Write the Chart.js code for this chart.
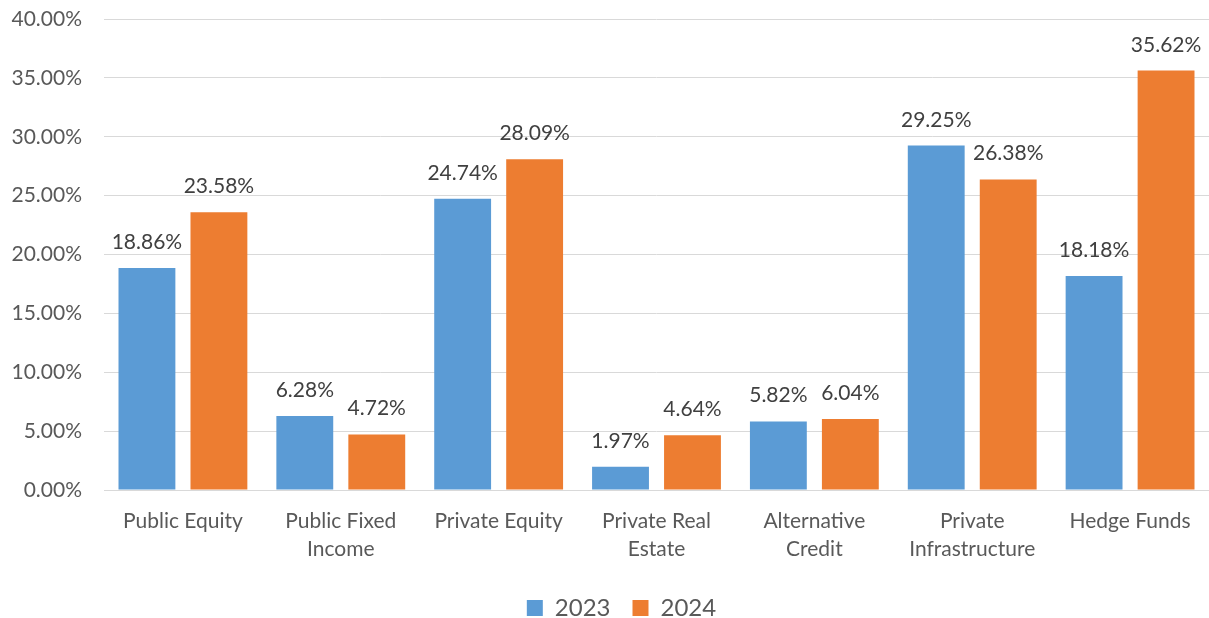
<!DOCTYPE html>
<html>
<head>
<meta charset="utf-8">
<script src="https://cdn.jsdelivr.net/npm/chart.js@4/dist/chart.umd.min.js"></script>
<style>
  html, body { margin: 0; padding: 0; background: #ffffff; }
  #wrap { width: 1209px; height: 618px; position: relative; }
</style>
</head>
<body>
<div id="wrap"><canvas id="c" width="1209" height="618"></canvas></div>
<script>
// Asset classes (multi-line labels as arrays)
const categories = [
  ['Public Equity'],
  ['Public Fixed', 'Income'],
  ['Private Equity'],
  ['Private Real', 'Estate'],
  ['Alternative', 'Credit'],
  ['Private', 'Infrastructure'],
  ['Hedge Funds']
];
// Returns in percent
const values2023 = [18.86, 6.28, 24.74, 1.97, 5.82, 29.25, 18.18];
const values2024 = [23.58, 4.72, 28.09, 4.64, 6.04, 26.38, 35.62];
const yTicks = [0, 5, 10, 15, 20, 25, 30, 35, 40];

const FONT = "Lato, 'Noto Sans', sans-serif";

// Value labels above each bar
const valueLabels = {
  id: 'valueLabels',
  afterDatasetsDraw(chart) {
    const ctx = chart.ctx;
    ctx.save();
    ctx.font = '21px ' + FONT;
    ctx.fillStyle = '#404040';
    ctx.textAlign = 'center';
    ctx.textBaseline = 'alphabetic';
    chart.data.datasets.forEach((ds, i) => {
      chart.getDatasetMeta(i).data.forEach((bar, j) => {
        ctx.fillText(ds.data[j].toFixed(2) + '%', bar.x, bar.y - 19);
      });
    });
    ctx.restore();
  }
};

// Nudge the legend box slightly right and up
const legendNudge = {
  id: 'legendNudge',
  afterLayout(chart) {
    const lg = chart.legend;
    if (!lg) return;
    lg.left += 17; lg.right += 17;
    lg.top -= 3; lg.bottom -= 3;
  }
};

new Chart(document.getElementById('c'), {
  type: 'bar',
  data: {
    labels: categories,
    datasets: [
      { label: '2023', data: values2023, backgroundColor: '#5B9BD5', borderWidth: 0 },
      { label: '2024', data: values2024, backgroundColor: '#ED7D31', borderWidth: 0 }
    ]
  },
  options: {
    responsive: false,
    animation: false,
    devicePixelRatio: 1,
    layout: { padding: { top: 0, right: 0, left: 0, bottom: -15 } },
    datasets: { bar: { categoryPercentage: 0.912, barPercentage: 0.79 } },
    plugins: {
      legend: {
        position: 'bottom',
        labels: {
          font: { size: 24, family: FONT },
          color: '#595959',
          boxWidth: 16,
          boxHeight: 16,
          padding: 22
        }
      },
      tooltip: { enabled: false }
    },
    scales: {
      x: {
        grid: { display: false },
        border: { display: true, color: '#d9d9d9', width: 1 },
        afterFit(axis) { axis.height = 87; },
        ticks: { font: { size: 21, family: FONT, lineHeight: 1.33 }, color: '#595959', padding: 9, maxRotation: 0, autoSkip: false }
      },
      y: {
        min: 0, max: 40,
        afterBuildTicks(axis) { axis.ticks = yTicks.map(v => ({ value: v })); },
        afterFit(axis) { axis.width = 104; axis.paddingTop = 19; axis.paddingBottom = 0; },
        grid: { color: '#d9d9d9', lineWidth: 1, drawTicks: false },
        border: { display: false },
        ticks: {
          font: { size: 21, family: FONT }, color: '#595959', padding: 22,
          callback: v => v.toFixed(2) + '%'
        }
      }
    }
  },
  plugins: [valueLabels, legendNudge]
});
</script>
</body>
</html>
